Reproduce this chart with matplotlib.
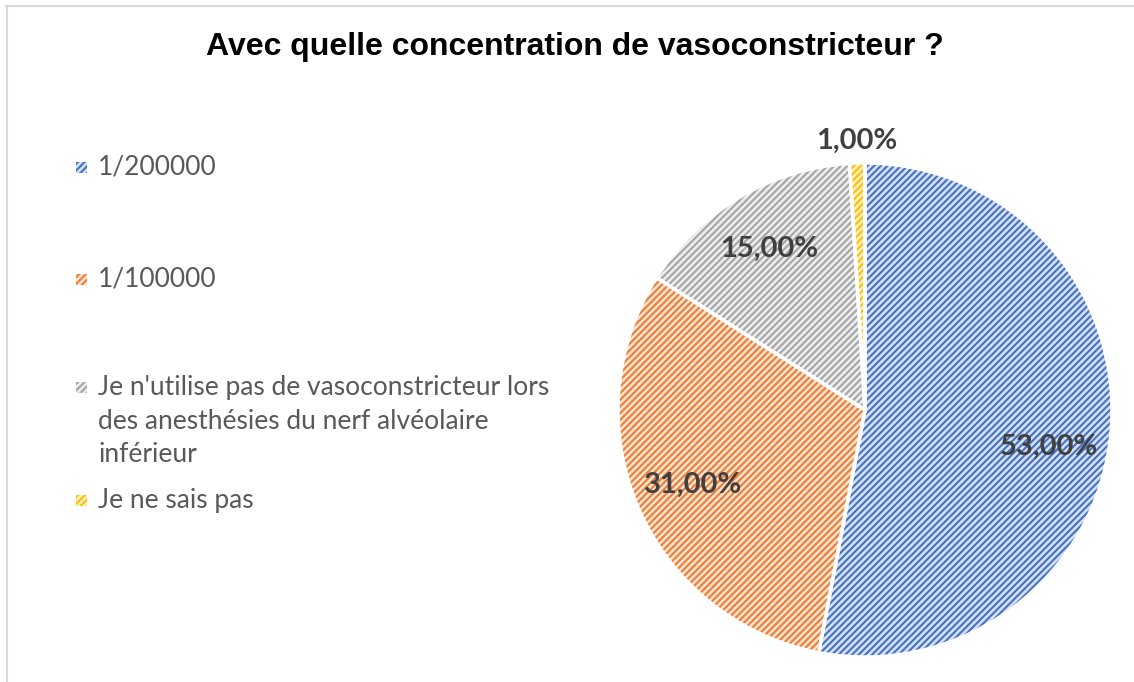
import matplotlib
import matplotlib.pyplot as plt
from matplotlib.patches import Rectangle
from matplotlib.lines import Line2D
import numpy as np

matplotlib.use("Agg")

labels = ['1/200000', '1/100000',
          "Je n'utilise pas de vasoconstricteur lors\ndes anesthésies du nerf alvéolaire\ninférieur",
          'Je ne sais pas']
values = [53, 31, 15, 1]
pct_text = ['53,00%', '31,00%', '15,00%', '1,00%']
line_colors = ['#4472C4', '#ED7D31', '#A5A5A5', '#FFC000']
fill_colors = ['#D6E0F4', '#FCE2D2', '#EDEDED', '#FFEFC2']

plt.rcParams['hatch.linewidth'] = 1.5

W, H = 1134, 682
fig = plt.figure(figsize=(W / 100, H / 100), dpi=100)
fig.patch.set_facecolor('white')

# chart frame (top and left only visible)
fig.add_artist(Line2D([6 / W, 1], [1 - 5.5 / H, 1 - 5.5 / H], color='#D9D9D9', lw=1.5))
fig.add_artist(Line2D([6.5 / W, 6.5 / W], [0, 1 - 5.5 / H], color='#D9D9D9', lw=1.5))

fig.text(575 / W, 1 - 47 / H, 'Avec quelle concentration de vasoconstricteur ?',
         ha='center', va='center', fontsize=23, fontweight='bold',
         family='Liberation Sans', color='black')

# pie: center (865, 410), radius 247 px
cx, cy, r = 865, 410, 247
ax = fig.add_axes([(cx - r) / W, (H - cy - r) / H, 2 * r / W, 2 * r / H])

wedges, _ = ax.pie(values, startangle=90, counterclock=False, radius=1,
                   colors=fill_colors, wedgeprops=dict(linewidth=0))
for w, lc in zip(wedges, line_colors):
    w.set_hatch('/////')
    w.set_edgecolor(lc)
    w.set_linewidth(0)
# white separators on top
ax.pie(values, startangle=90, counterclock=False, radius=1,
       colors=['none'] * 4, wedgeprops=dict(linewidth=2.5, edgecolor='white'))
ax.set_xlim(-1, 1)
ax.set_ylim(-1, 1)
ax.set_aspect('equal')
ax.axis('off')

# data labels
dist = [0.76, 0.76, 0.76, 1.09]
shift = [-6, 0, 0, 0]
start = 90.0
total = sum(values)
for v, t, d, s in zip(values, pct_text, dist, shift):
    span = 360.0 * v / total
    mid = np.deg2rad(start - span / 2 + s)
    start -= span
    ax.text(d * np.cos(mid), d * np.sin(mid), t, ha='center', va='center',
            fontsize=21, fontweight='bold', family='Lato', color='#404040')

# legend drawn by hand; marker sits on the first text line
leg_y = [167, 279, 387, 500]
for lab, y, fc, lc in zip(labels, leg_y, fill_colors, line_colors):
    sq = Rectangle((76 / W, 1 - (y + 5.5) / H), 11 / W, 11 / H, transform=fig.transFigure,
                   facecolor=fc, edgecolor=lc, hatch='/////', linewidth=0)
    fig.add_artist(sq)
    fig.text(98 / W, 1 - (y - 12) / H, lab, ha='left', va='top', fontsize=19,
             family='Lato', color='#595959', linespacing=1.43)

fig.savefig('out.png', dpi=100)
